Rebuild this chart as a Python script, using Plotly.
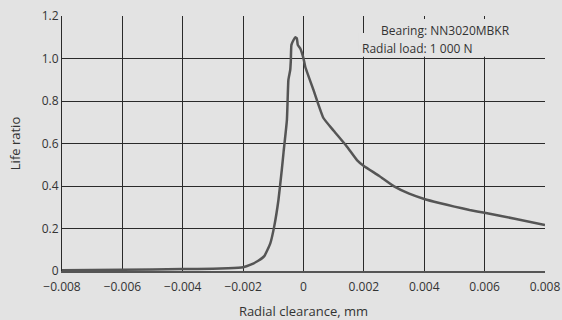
import plotly.graph_objects as go

# Radial clearance (mm) and life ratio
clearance = [-0.008, -0.006, -0.004, -0.003, -0.0025, -0.002, -0.00175, -0.0015,
             -0.0013, -0.0011, -0.00097, -0.00083, -0.00072, -0.00066, -0.00055,
             -0.0005, -0.00044, -0.00042, -0.0004, -0.00033, -0.00027, -0.00022,
             -0.00019, -0.00011, 0.0, 0.00006, 0.00033, 0.00066, 0.001, 0.00144,
             0.00177, 0.002, 0.0025, 0.003, 0.0035, 0.004, 0.0045, 0.005, 0.0055,
             0.006, 0.007, 0.008]
life_ratio = [0.004, 0.006, 0.009, 0.011, 0.013, 0.018, 0.030, 0.048,
              0.070, 0.130, 0.210, 0.334, 0.475, 0.560, 0.710,
              0.900, 0.946, 0.990, 1.064, 1.087, 1.100, 1.095,
              1.064, 1.048, 1.000, 0.960, 0.852, 0.720, 0.660, 0.585,
              0.522, 0.494, 0.448, 0.398, 0.364, 0.339, 0.320, 0.303, 0.287,
              0.274, 0.246, 0.216]

x_ticks = [-0.008, -0.006, -0.004, -0.002, 0, 0.002, 0.004, 0.006, 0.008]
x_labels = ["\u22120.008", "\u22120.006", "\u22120.004", "\u22120.002", "0",
            "0.002", "0.004", "0.006", "0.008"]
y_ticks = [0, 0.2, 0.4, 0.6, 0.8, 1.0, 1.2]
y_labels = ["0", "0.2", "0.4", "0.6", "0.8", "1.0", "1.2"]

BG = "#e3e3e3"
GRID = "#2a2a2a"
FONT = "Open Sans"

fig = go.Figure()
fig.add_trace(go.Scatter(
    x=clearance,
    y=life_ratio,
    mode="lines",
    line=dict(color="#555555", width=2.5, shape="spline", smoothing=0.4),
    hoverinfo="skip"
))

# patches that hide the grid behind the legend text
fig.add_shape(type="rect", xref="x", yref="y", x0=0.00181, x1=0.00794, y0=1.008, y1=1.12,
              fillcolor=BG, line=dict(width=0), layer="above")
fig.add_shape(type="rect", xref="x", yref="y", x0=0.00208, x1=0.00794, y0=1.1, y1=1.186,
              fillcolor=BG, line=dict(width=0), layer="above")

fig.add_annotation(x=0.0025, y=1.131, xref="x", yref="y", xanchor="left",
                   text="Bearing: NN3020MBKR", showarrow=False,
                   font=dict(family=FONT, size=12, color="#333333"))
fig.add_annotation(x=0.00186, y=1.048, xref="x", yref="y", xanchor="left",
                   text="Radial load: 1 000 N", showarrow=False,
                   font=dict(family=FONT, size=12, color="#333333"))

fig.update_layout(
    width=562,
    height=320,
    paper_bgcolor=BG,
    plot_bgcolor=BG,
    font=dict(family=FONT, size=12, color="#333333"),
    showlegend=False,
    margin=dict(l=62, r=17, t=16, b=49, autoexpand=False),
    xaxis=dict(
        range=[-0.008, 0.008],
        tickvals=x_ticks,
        ticktext=x_labels,
        showgrid=True,
        gridcolor=GRID,
        gridwidth=1,
        zeroline=False,
        showline=True,
        linecolor="#555555",
        linewidth=2,
        ticks="",
        ticklabelstandoff=4,
        title=dict(text="Radial clearance, mm", font=dict(size=13), standoff=14),
        tickfont=dict(size=12),
    ),
    yaxis=dict(
        range=[0, 1.2],
        tickvals=y_ticks,
        ticktext=y_labels,
        showgrid=True,
        gridcolor=GRID,
        gridwidth=1,
        zeroline=False,
        showline=True,
        linecolor=GRID,
        linewidth=1,
        ticks="",
        title=dict(text="Life ratio", font=dict(size=13), standoff=18),
        tickfont=dict(size=12),
    ),
)

fig.write_html("out.html", config={"displayModeBar": False},
               post_script="document.body.style.margin='0';")
